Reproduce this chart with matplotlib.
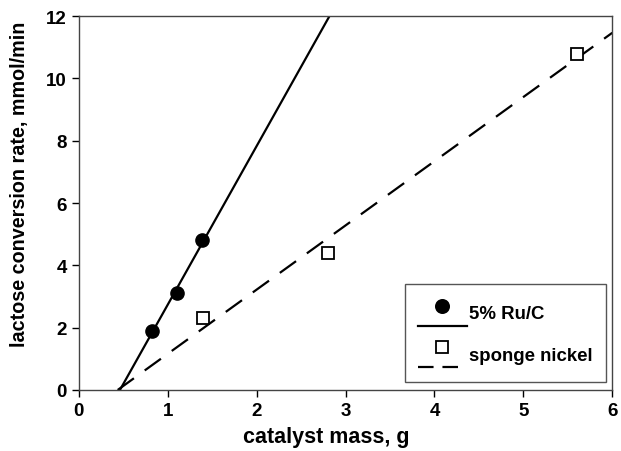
import numpy as np
import matplotlib
matplotlib.use('Agg')
import matplotlib.pyplot as plt
from matplotlib.legend_handler import HandlerBase
from matplotlib.lines import Line2D

# data
ru_mass = [0.82, 1.10, 1.39]
ru_rate = [1.9, 3.1, 4.8]
ni_mass = [1.40, 2.80, 5.60]
ni_rate = [2.3, 4.4, 10.8]

x_ticks = [0, 1, 2, 3, 4, 5, 6]
y_ticks = [0, 2, 4, 6, 8, 10, 12]

plt.rcParams['font.family'] = ['Liberation Sans', 'DejaVu Sans']
plt.rcParams['font.weight'] = 'bold'


class MarkerOverLine(HandlerBase):
    '''draw the marker above the line, sigmaplot style'''
    def create_artists(self, legend, orig_handle, xdescent, ydescent,
                       width, height, fontsize, trans):
        mk, ln = orig_handle
        y_low = -ydescent + 0.05 * height
        y_high = -ydescent + 0.72 * height
        x_end = -xdescent + (width if ln.get_linestyle() == '-' else 0.85 * width)
        line = Line2D([-xdescent, x_end], [y_low, y_low],
                      color='black', lw=1.6, linestyle=ln.get_linestyle())
        if ln.get_linestyle() == '--':
            line.set_dashes((7, 4))
        marker = Line2D([-xdescent + 0.5 * width], [y_high], marker=mk.get_marker(),
                        markersize=mk.get_markersize(), markerfacecolor=mk.get_markerfacecolor(),
                        markeredgecolor='black', markeredgewidth=1.3, linestyle='none')
        line.set_transform(trans)
        marker.set_transform(trans)
        return [line, marker]


fig = plt.figure(figsize=(6.21, 4.52), dpi=100)
ax = fig.add_axes([0.127, 0.135, 0.859, 0.827])

# least squares lines through each data set
ru_fit = np.polyfit(ru_mass, ru_rate, 1)
ni_fit = np.polyfit(ni_mass, ni_rate, 1)
ru_x = np.array([-ru_fit[1] / ru_fit[0], 6])
ni_x = np.array([-ni_fit[1] / ni_fit[0], 6])

ru_line, = ax.plot(ru_x, np.polyval(ru_fit, ru_x), color='black', lw=1.6)
ni_line, = ax.plot(ni_x, np.polyval(ni_fit, ni_x), color='black', lw=1.6, linestyle='--')
ni_line.set_dashes((9, 6))

ru_pts, = ax.plot(ru_mass, ru_rate, 'o', color='black', markersize=9.5, linestyle='none')
ni_pts, = ax.plot(ni_mass, ni_rate, 's', markerfacecolor='white', markeredgecolor='black',
                  markeredgewidth=1.3, markersize=8.5, linestyle='none')

ax.set_xlim(0, 6)
ax.set_ylim(0, 12)
ax.set_xticks(x_ticks)
ax.set_yticks(y_ticks)
ax.tick_params(direction='out', length=5, width=1, labelsize=13.5, colors='black')
for lbl in ax.get_xticklabels() + ax.get_yticklabels():
    lbl.set_fontweight('bold')
for sp in ax.spines.values():
    sp.set_linewidth(1.0)
    sp.set_color('#444444')

ax.set_xlabel('catalyst mass, g', fontsize=15.5, fontweight='bold')
ax.set_ylabel('lactose conversion rate, mmol/min', fontsize=14.2, fontweight='bold')
ax.xaxis.set_label_coords(0.463, -0.097)
ax.yaxis.set_label_coords(-0.094, 0.553)

leg = ax.legend([(ru_pts, ru_line), (ni_pts, ni_line)], ['5% Ru/C', 'sponge nickel'],
                handler_map={tuple: MarkerOverLine()},
                loc='lower right', bbox_to_anchor=(0.989, 0.021),
                handlelength=2.6, handleheight=2.1, labelspacing=0.62,
                borderpad=0.72, handletextpad=0.15, borderaxespad=0, fancybox=False, framealpha=1,
                prop={'size': 13.4, 'weight': 'bold'})
leg.get_frame().set_edgecolor('#555555')
leg.get_frame().set_linewidth(1.0)

fig.savefig('out.png', dpi=100)
